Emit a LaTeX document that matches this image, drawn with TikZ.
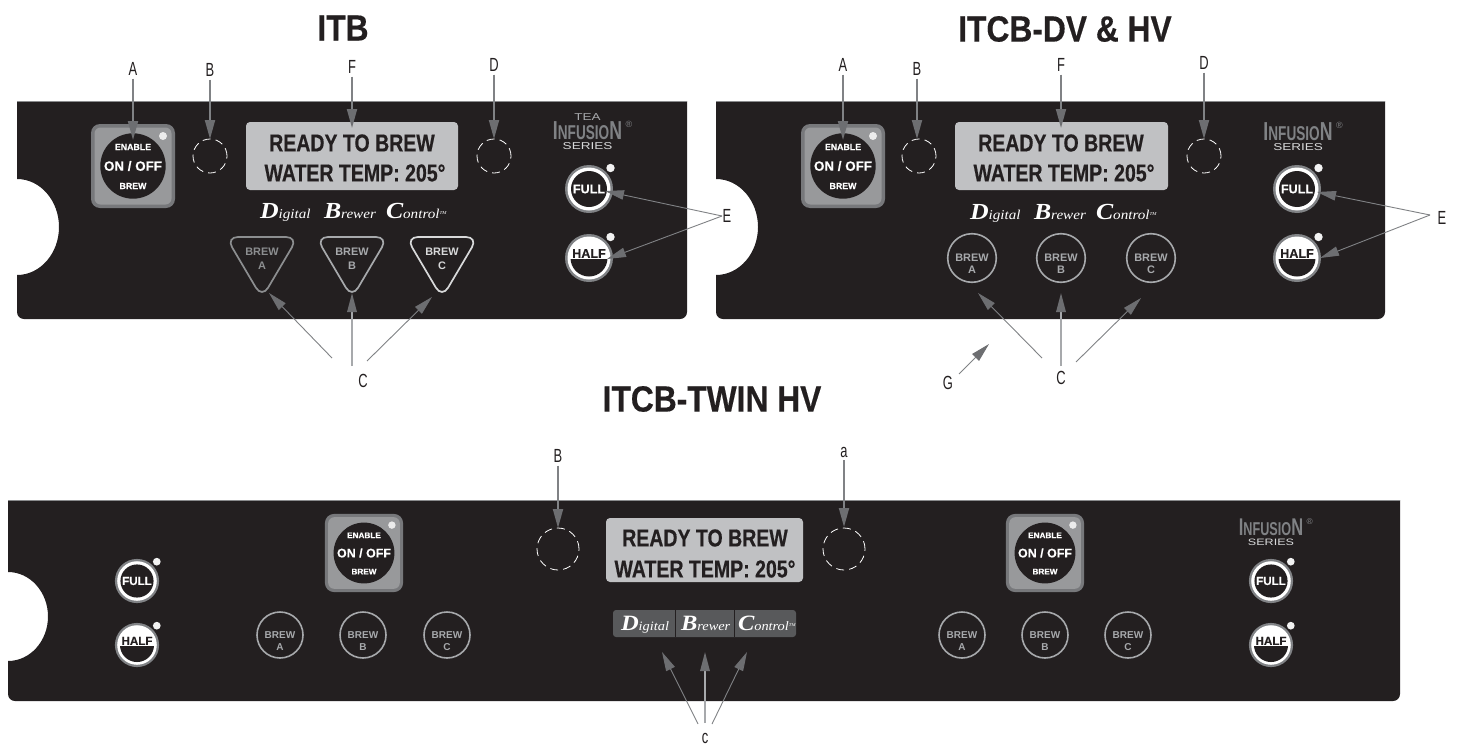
\documentclass[tikz,border=0pt]{standalone}
\usepackage{fontspec}
\usetikzlibrary{arrows.meta}
\setmainfont{Liberation Sans}
\newfontfamily\titlef[FakeStretch=.87,BoldFeatures={FakeBold=.35}]{Liberation Sans}
\newfontfamily\dispf[FakeStretch=.8,BoldFeatures={FakeBold=.45}]{Liberation Sans}
\newfontfamily\labf[FakeStretch=.68]{Liberation Sans}
\newfontfamily\logof[FakeStretch=.68]{Liberation Sans}
\newfontfamily\widef[FakeStretch=1.35]{Liberation Sans}
\newfontfamily\btnf[BoldFeatures={FakeBold=.3}]{Liberation Sans}
\newfontfamily\dbcf[FakeStretch=1.12]{Liberation Serif}
\newcommand{\fsz}[1]{\fontsize{#1}{#1}\selectfont}
\definecolor{panelc}{HTML}{231F20}
\definecolor{edgec}{HTML}{8A8B8D}
\definecolor{arrowc}{HTML}{808285}
\definecolor{headc}{HTML}{6D6E71}
\definecolor{squareo}{HTML}{77787B}
\definecolor{squarei}{HTML}{98999B}
\definecolor{lcdc}{HTML}{C0C1C3}
\definecolor{stripc}{HTML}{58595B}
\definecolor{brewa}{HTML}{8C8E90}
\definecolor{brewb}{HTML}{A7A9AC}
\definecolor{brewc}{HTML}{D8D9DA}
\tikzset{
  txt/.style={inner sep=0pt,outer sep=0pt,align=center},
  title/.style={txt,font=\titlef\bfseries\fsz{36.5},text=panelc},
  lab/.style={inner sep=3pt,outer sep=0pt,font=\labf\fsz{19},text=panelc},
  lcdtxt/.style={txt,font=\dispf\bfseries\fsz{24.4},text=panelc},
  dashcirc/.style={circle,draw=white,line width=.8pt,dash pattern=on 8pt off 5pt,inner sep=0pt,minimum size=#1},
  bigarrow/.style={draw=arrowc,line width=1.9pt,-{Triangle[length=19pt,width=10pt,fill=headc,color=headc]}},
  thinarrow/.style={draw=arrowc,line width=.9pt,-{Triangle[length=19pt,width=9.5pt,fill=headc,color=headc]}},
  midarrow/.style={draw=brewb,line width=1.6pt,-{Triangle[length=19pt,width=9.5pt,fill=headc,color=headc]}},
  dbc/.style={txt,anchor=base west,text=white,transform shape}
}
\newcommand{\panel}[7]{%
  \pgfmathsetmacro{\nt}{#5-#7}\pgfmathsetmacro{\nb}{#5+#7}%
  \pgfmathsetmacro{\nx}{#1+#6}\pgfmathsetmacro{\nkx}{#1+.5523*#6}%
  \pgfmathsetmacro{\nkt}{#5-.5523*#7}\pgfmathsetmacro{\nkb}{#5+.5523*#7}%
  \fill[panelc] (#1,#3) -- (#2,#3) [rounded corners=7pt] -- (#2,#4) -- (#1,#4) [sharp corners]
     -- (#1,\nb) .. controls (\nkx,\nb) and (\nx,\nkb) .. (\nx,#5)
     .. controls (\nx,\nkt) and (\nkx,\nt) .. (#1,\nt) -- cycle;
  \draw[edgec,line width=.8pt] (#1,#3) -- (#2,#3);
}
\newcommand{\onoff}[4]{%
  \begin{scope}[shift={(#2,#3)},scale=#4,transform shape]
    \fill[squareo,rounded corners=9pt] (-42,-42) rectangle (42,42);
    \fill[squarei,rounded corners=6pt] (-38.5,-38.5) rectangle (38.5,38.5);
    \fill[panelc] (0,0) circle (32.7);
    \fill[white!92!black] (30,-30) circle (4);
    \node[txt,text=white,font=\btnf\bfseries\fsz{8.8}] (#1-en) at (0,-19) {ENABLE};
    \node[txt,text=white,font=\btnf\bfseries\fsz{13.4}] (#1-on) at (0,0) {ON / OFF};
    \node[txt,text=white,font=\btnf\bfseries\fsz{8.8}] (#1-br) at (0,20) {BREW};
  \end{scope}}
\newcommand{\fullbtn}[4]{%
  \begin{scope}[shift={(#2,#3)},scale=#4,transform shape]
    \fill[arrowc] (0,0) circle (24);
    \fill[white] (0,0) circle (21.5);
    \fill[panelc] (0,0) circle (18);
    \fill[white!95!black] (21.5,-21) circle (4.2);
    \node[txt,text=white,font=\btnf\bfseries\fsz{12.6}] (#1) at (0,0) {FULL};
  \end{scope}}
\newcommand{\halfbtn}[4]{%
  \begin{scope}[shift={(#2,#3)},scale=#4,transform shape]
    \fill[arrowc] (0,0) circle (24);
    \fill[white] (0,0) circle (21.5);
    \begin{scope}
      \clip (0,0) circle (18.5);
      \fill[panelc] (-20,1) rectangle (20,20);
    \end{scope}
    \fill[white!95!black] (21.5,-21) circle (4.2);
    \node[txt,text=panelc,font=\btnf\bfseries\fsz{12.6}] (#1) at (0,-4.5) {HALF};
  \end{scope}}
\newcommand{\tribtn}[4]{%
  \draw[#3,line width=1.7pt,rounded corners=12pt] (#2-36,237) -- (#2+36,237) -- (#2,298) -- cycle;
  \node[txt,text=#3,font=\bfseries\fsz{10.9}] (#1-w) at (#2,252) {BREW};
  \node[txt,text=#3,font=\bfseries\fsz{10.9}] (#1-l) at (#2,266) {#4};}
\newcommand{\circbtn}[7]{%
  \draw[brewb,line width=1.6pt] (#2,#3) circle (#4);
  \node[txt,text=brewb,font=\bfseries\fsz{#5}] (#1-w) at (#2,#3) {BREW};
  \node[txt,text=brewb,font=\bfseries\fsz{#5}] (#1-l) at (#2,#3+#6) {#7};}
\newcommand{\dbcwords}[6]{%
  \begin{scope}[shift={(0,#5)},transform shape]
  \node[dbc,scale=#6] (#1-d) at (#2,0) {\dbcf\itshape{\bfseries\fsz{23}D}\fsz{13.5}igital};
  \node[dbc,scale=#6] (#1-b) at (#3,0) {\dbcf\itshape{\bfseries\fsz{23}B}\fsz{13.5}rewer};
  \node[dbc,scale=#6] (#1-c) at (#4,0) {\dbcf\itshape{\bfseries\fsz{23}C}\fsz{13.5}ontrol\raisebox{3.5pt}{\fsz{4.5}TM}};
  \end{scope}}
\newcommand{\infusion}[4]{%
  \begin{scope}[shift={(#2,#3)},scale=#4,transform shape]
  \node[txt,anchor=base,text=arrowc] (#1) at (0,-1.5) {\logof\bfseries\fsz{26}I\fsz{20}NFUSIO\fsz{26}N};
  \node[txt,text=arrowc,font=\fsz{9}] (#1-r) at (41.5,-17) {\textregistered};
  \node[txt,anchor=base,text=brewc,font=\widef\fsz{10}] (#1-s) at (0,8.8) {SERIES};
  \end{scope}}
\begin{document}
\begin{tikzpicture}[x=1pt,y=-1pt]
\useasboundingbox (0,0) rectangle (1458,744);
\fill[white] (0,0) rectangle (1458,744);
\node[title] (t1) at (343,28) {ITB};
\node[title] (t2) at (1065,29) {ITCB-DV \& HV};
\node[title] (t3) at (712,399) {ITCB-TWIN HV};
\panel{17}{687}{101}{319}{227}{42}{48}
\panel{716}{1385}{101}{319}{227}{42}{48}
\panel{8}{1400}{500}{701}{616.5}{40}{44.5}
% ---- panel 1
\onoff{p1o}{133}{166}{1}
\node[dashcirc=34pt] (p1b) at (210,156) {};
\node[dashcirc=34pt] (p1e) at (494,156) {};
\fill[lcdc,rounded corners=4pt] (246,122) rectangle (458,190);
\node[lcdtxt] (p1l1) at (352,143) {READY TO BREW};
\node[lcdtxt] (p1l2) at (355,173) {WATER TEMP: 205°};
\dbcwords{p1w}{260}{324}{386}{218}{1}
\tribtn{p1a}{262}{brewa}{A}
\tribtn{p1bb}{352}{brewb}{B}
\tribtn{p1c}{442}{brewc}{C}
\node[txt,anchor=base,text=brewb,font=\widef\fsz{10}] (p1tea) at (587.5,120) {TEA};
\infusion{p1i}{587.5}{141}{1}
\fullbtn{p1f}{589}{189}{1}
\halfbtn{p1h}{589}{258}{1}
% ---- panel 2
\onoff{p2o}{843}{166}{1}
\node[dashcirc=34pt] (p2b) at (919,156) {};
\node[dashcirc=34pt] (p2e) at (1204,156) {};
\fill[lcdc,rounded corners=4pt] (955,122) rectangle (1168,190);
\node[lcdtxt] (p2l1) at (1061,143) {READY TO BREW};
\node[lcdtxt] (p2l2) at (1064,173) {WATER TEMP: 205°};
\dbcwords{p2w}{970}{1034}{1096}{219}{1}
\circbtn{p2a}{972}{258}{24.3}{10.9}{12}{A}
\circbtn{p2bb}{1061}{258}{24.3}{10.9}{12}{B}
\circbtn{p2c}{1151}{258}{24.3}{10.9}{12}{C}
\infusion{p2i}{1298}{142}{1}
\fullbtn{p2f}{1297}{189}{1}
\halfbtn{p2h}{1297}{258}{1}
% ---- panel 3
\fullbtn{p3f}{137}{581}{.92}
\halfbtn{p3h}{137}{645}{.92}
\onoff{p3o}{364}{553}{.93}
\circbtn{p3a}{280}{635}{23}{10}{12}{A}
\circbtn{p3bb}{363}{635}{23}{10}{12}{B}
\circbtn{p3c}{447}{635}{23}{10}{12}{C}
\node[dashcirc=42pt] (p3b) at (558,549) {};
\node[dashcirc=42pt] (p3e) at (844,549) {};
\fill[lcdc,rounded corners=4pt] (606,518) rectangle (803,582);
\node[lcdtxt] (p3l1) at (705,538) {READY TO BREW};
\node[lcdtxt] (p3l2) at (705,569) {WATER TEMP: 205°};
\fill[stripc,rounded corners=3pt] (613,610) rectangle (796,637);
\draw[panelc,line width=.8pt] (675,610) -- (675,637) (734,610) -- (734,637);
\dbcwords{p3w}{621}{681}{738}{630}{.95}
\onoff{p3q}{1045}{553}{.93}
\circbtn{p3x}{962}{635}{23}{10}{12}{A}
\circbtn{p3y}{1045}{635}{23}{10}{12}{B}
\circbtn{p3z}{1128}{635}{23}{10}{12}{C}
\infusion{p3i}{1271}{537}{.93}
\fullbtn{p3g}{1271}{581}{.92}
\halfbtn{p3k}{1271}{645}{.92}
% ---- labels
\node[lab] (a1) at (133,69) {A};
\node[lab] (b1) at (210,70) {B};
\node[lab] (f1) at (352,67) {F};
\node[lab] (d1) at (494,65) {D};
\node[lab] (e1) at (727,216) {E};
\node[lab] (c1) at (363,381) {C};
\node[lab] (a2) at (843,65) {A};
\node[lab] (b2) at (917,69) {B};
\node[lab] (f2) at (1061,65) {F};
\node[lab] (d2) at (1204,63) {D};
\node[lab] (e2) at (1442,218) {E};
\node[lab] (c2) at (1061,378) {C};
\node[lab] (g2) at (948,383) {G};
\node[lab] (b3) at (558,456) {B};
\node[lab] (a3) at (844,452) {a};
\node[lab] (c3) at (705,738) {c};
% ---- connector ends
\coordinate (ta1) at (133,140);
\coordinate (tb1) at (210,139);
\coordinate (tf1) at (352,128);
\coordinate (td1) at (494,139);
\coordinate (ta2) at (843,140);
\coordinate (tb2) at (917,139);
\coordinate (tf2) at (1061,128);
\coordinate (td2) at (1204,139);
\coordinate (tb3) at (558,528);
\coordinate (ta3) at (844,527);
\coordinate (se1) at (722,216);
\coordinate (se2) at (1430,215);
\coordinate (sc1a) at (332,358); \coordinate (tc1a) at (269,293);
\coordinate (sc1b) at (352,366); \coordinate (tc1b) at (352,293);
\coordinate (sc1c) at (367,361); \coordinate (tc1c) at (432,297);
\coordinate (sc2a) at (1042,358); \coordinate (tc2a) at (978,293);
\coordinate (sc2b) at (1061,366); \coordinate (tc2b) at (1061,293);
\coordinate (sc2c) at (1076,362); \coordinate (tc2c) at (1141,298);
\coordinate (sg) at (959,374); \coordinate (tg) at (989,344);
\coordinate (sc3a) at (698,724); \coordinate (tc3a) at (662,652);
\coordinate (sc3b) at (705,723); \coordinate (tc3b) at (705,652);
\coordinate (sc3c) at (712,724); \coordinate (tc3c) at (747,652);
\coordinate (te1f) at (605,191); \coordinate (te1h) at (607,259);
\coordinate (te2f) at (1317,192); \coordinate (te2h) at (1320,258);
% ---- connectors
\foreach \s/\t in {a1/ta1,b1/tb1,f1/tf1,d1/td1,a2/ta2,b2/tb2,f2/tf2,d2/td2,b3/tb3,a3/ta3}
  \draw[bigarrow] (\s) -- (\t);
\foreach \s/\t in {se1/te1f,se1/te1h,se2/te2f,se2/te2h,sc1a/tc1a,sc1c/tc1c,sc2a/tc2a,sc2c/tc2c,sg/tg,sc3a/tc3a,sc3c/tc3c}
  \draw[thinarrow] (\s) -- (\t);
\foreach \s/\t in {sc1b/tc1b,sc2b/tc2b,sc3b/tc3b}
  \draw[midarrow] (\s) -- (\t);
\end{tikzpicture}
\end{document}
